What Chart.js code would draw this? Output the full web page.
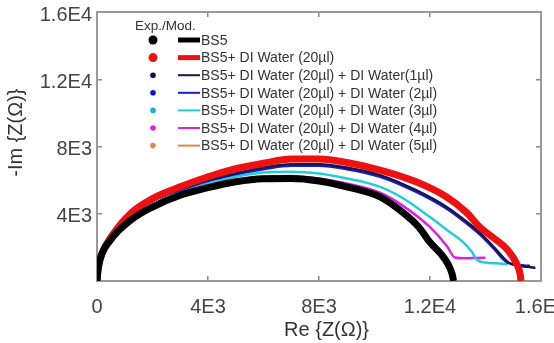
<!DOCTYPE html>
<html lang="en">
<head>
  <meta charset="UTF-8">
  <script src="https://cdn.jsdelivr.net/npm/chart.js@4.4.1/dist/chart.umd.min.js"></script>
  <title>Nyquist plot</title>
  <style>
    body { margin: 0; background: #fff; }
    #chart-container { width: 554px; height: 343px; }
  </style>
</head>
<body>
  <div id="chart-container">
    <canvas id="myChart" width="554" height="343"></canvas>
  </div>
  <script>
    // series names as in the legend
    var seriesNames = [
      'BS5',
      'BS5+ DI Water (20\u00b5l)',
      'BS5+ DI Water (20\u00b5l) + DI Water(1\u00b5l)',
      'BS5+ DI Water (20\u00b5l) + DI Water (2\u00b5l)',
      'BS5+ DI Water (20\u00b5l) + DI Water (3\u00b5l)',
      'BS5+ DI Water (20\u00b5l) + DI Water (4\u00b5l)',
      'BS5+ DI Water (20\u00b5l) + DI Water (5\u00b5l)'
    ];

    // [Re Z, -Im Z]
    var bs5 = [[0,0],[30,600],[110,1300],[470,2400],[1200,3600],[2000,4400],[3000,5100],[4000,5550],[5000,5900],[6000,6080],[7000,6100],[8000,5950],[9000,5600],[10200,5000],[11000,4100],[11600,3200],[12000,2300],[12400,1600],[12650,1000],[12800,400],[12850,0]];
    var bs5Water = [[0,0],[50,800],[200,1700],[500,2600],[1200,4000],[2000,4900],[3000,5600],[4000,6200],[4800,6600],[6000,7000],[7000,7250],[8000,7250],[9000,7050],[10200,6600],[11500,5900],[12600,5000],[13300,4100],[13800,3200],[14300,2550],[14800,1850],[15100,1100],[15250,400],[15280,0]];
    var water1 = [[0,0],[50,750],[200,1650],[500,2550],[1200,3900],[2000,4800],[3000,5450],[4000,6000],[5000,6400],[6000,6750],[7000,6950],[8000,6950],[9000,6750],[10200,6300],[11500,5400],[12600,4400],[13300,3550],[13800,2860],[14300,2020],[14650,1370],[14850,1070],[15200,900],[15500,850],[15800,780]];
    var water2 = [[0,0],[50,750],[200,1600],[500,2500],[1200,3850],[2000,4750],[3000,5400],[4000,5950],[5000,6350],[6000,6650],[7000,6850],[8000,6850],[9000,6650],[10200,6200],[11500,5300],[12600,4300],[13300,3450],[13800,2760],[14300,1920],[14600,1350],[14800,1100],[15200,950],[15600,900]];
    var water3 = [[0,0],[50,700],[150,1500],[470,2450],[1200,3700],[2000,4550],[3000,5250],[4000,5800],[5000,6200],[6000,6450],[7000,6500],[8000,6400],[9000,6100],[10200,5600],[11000,4950],[12000,3800],[12600,3050],[13200,2300],[13500,1750],[13700,1250],[14000,1100],[14400,1050],[14800,1000]];
    var water4 = [[0,0],[40,650],[120,1400],[470,2450],[1200,3650],[2000,4450],[3000,5150],[4000,5650],[5000,6000],[6000,6200],[7000,6250],[8000,6100],[9000,5800],[10200,5250],[11000,4500],[12000,3200],[12600,2100],[12900,1400],[13300,1350],[13700,1370],[14000,1380]];
    var water5 = [[0,0],[30,600],[110,1300],[470,2400],[1200,3600],[2000,4400],[3000,5080],[4000,5550],[5000,5900],[6000,6100],[7000,6150],[8000,6000],[9000,5650],[10200,5050],[11000,4200],[11600,3300],[12000,2400],[12400,1700],[12650,1100],[12800,500],[12850,0]];

    var xTickLabels = ['0', '4E3', '8E3', '1.2E4', '1.6E4'];
    var yTickLabels = ['', '4E3', '8E3', '1.2E4', '1.6E4'];

    var allSeries = [bs5, bs5Water, water1, water2, water3, water4, water5];
    var lineColors = ['#000000', '#ee1111', '#16164f', '#1c1cd0', '#22ccdd', '#dd22dd', '#e08840'];
    var markerColors = ['#000000', '#ee1111', '#0c0c50', '#1010d8', '#2aa6e0', '#e020e0', '#e08840'];
    var lineWidths = [7, 7, 2.5, 2.5, 2.5, 2.5, 2.5];

    Chart.defaults.font.family = 'Arial, "Liberation Sans", sans-serif';

    var datasets = [];
    for (var i = 0; i < allSeries.length; i++) {
      datasets.push({
        label: seriesNames[i],
        data: allSeries[i].map(function (p) { return { x: p[0], y: p[1] }; }),
        borderColor: lineColors[i],
        backgroundColor: lineColors[i],
        borderWidth: lineWidths[i],
        pointRadius: 0,
        showLine: true,
        cubicInterpolationMode: 'monotone',
        fill: false
      });
    }

    // legend drawn by hand: marker + line sample + text
    var legendPlugin = {
      id: 'expModLegend',
      afterDraw: function (chart) {
        var ctx = chart.ctx;
        ctx.save();
        ctx.fillStyle = '#333';
        ctx.font = '13.5px Arial, "Liberation Sans", sans-serif';
        ctx.textBaseline = 'middle';
        ctx.fillText('Exp./Mod.', 135, 26);
        ctx.font = '14px Arial, "Liberation Sans", sans-serif';
        for (var i = 0; i < seriesNames.length; i++) {
          var y = 40 + i * 17.6;
          ctx.beginPath();
          ctx.fillStyle = markerColors[i];
          ctx.arc(153, y, i < 2 ? 4.5 : 2.8, 0, Math.PI * 2);
          ctx.fill();
          ctx.beginPath();
          ctx.strokeStyle = lineColors[i];
          ctx.lineWidth = i < 2 ? 5 : 2;
          ctx.moveTo(178, y);
          ctx.lineTo(200, y);
          ctx.stroke();
          ctx.fillStyle = '#333';
          ctx.fillText(seriesNames[i], 201, y + 1);
        }
        ctx.restore();
      }
    };

    var gridOpts = {
      drawOnChartArea: false,
      drawTicks: true,
      tickLength: -5,
      color: '#888',
      lineWidth: 1.5
    };
    var borderOpts = { display: true, color: '#999', width: 2 };

    var ctx = document.getElementById('myChart').getContext('2d');
    var myChart = new Chart(ctx, {
      type: 'scatter',
      data: { datasets: datasets },
      options: {
        responsive: false,
        animation: false,
        layout: { padding: { top: 12, right: 13, left: 0, bottom: 0 } },
        plugins: {
          legend: { display: false },
          tooltip: { enabled: false }
        },
        scales: {
          x: {
            type: 'linear',
            position: 'bottom',
            min: 0,
            max: 16000,
            grid: gridOpts,
            border: borderOpts,
            ticks: {
              stepSize: 4000,
              padding: 19,
              maxRotation: 0,
              color: '#444',
              font: { size: 20 },
              callback: function (v) { return xTickLabels[Math.round(v / 4000)]; }
            },
            title: {
              display: true,
              text: '  \u2009Re {Z(\u03a9)}',
              color: '#333',
              font: { size: 20 },
              padding: { top: 2, bottom: 1 }
            },
            afterFit: function (s) { s.height = 62; s.paddingLeft = 0; s.paddingRight = 0; }
          },
          y: {
            type: 'linear',
            position: 'left',
            min: 0,
            max: 16000,
            grid: gridOpts,
            border: borderOpts,
            ticks: {
              stepSize: 4000,
              padding: 10,
              labelOffset: 3,
              color: '#444',
              font: { size: 20 },
              callback: function (v) { return yTickLabels[Math.round(v / 4000)]; }
            },
            title: {
              display: true,
              text: '     -Im {Z(\u03a9)}',
              color: '#333',
              font: { size: 20 },
              padding: { top: 4, bottom: 4 }
            },
            afterFit: function (s) { s.width = 97; s.paddingTop = 0; s.paddingBottom = 0; }
          },
          x2: {
            type: 'linear',
            position: 'top',
            min: 0,
            max: 16000,
            grid: gridOpts,
            border: borderOpts,
            ticks: { stepSize: 4000, display: false },
            afterFit: function (s) { s.height = 0; }
          },
          y2: {
            type: 'linear',
            position: 'right',
            min: 0,
            max: 16000,
            grid: gridOpts,
            border: borderOpts,
            ticks: { stepSize: 4000, display: false },
            afterFit: function (s) { s.width = 0; }
          }
        }
      },
      plugins: [legendPlugin]
    });
  </script>
</body>
</html>
